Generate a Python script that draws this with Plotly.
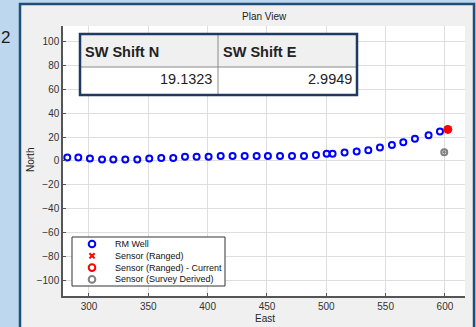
import plotly.graph_objects as go

# ---- data -------------------------------------------------------------
well_east = [281.7, 291.0, 300.8, 311.0, 320.5, 330.6, 340.7, 350.8, 360.9, 371.0,
             380.9, 390.7, 400.8, 411.0, 421.0, 431.2, 441.3, 450.8, 461.0, 471.1,
             481.2, 491.3, 500.3, 505.3, 515.4, 525.6, 535.4, 545.2, 555.3, 564.9,
             574.7, 586.2, 595.8]
well_north = [2.8, 2.8, 2.0, 1.1, 1.1, 1.1, 1.1, 1.9, 2.5, 2.5,
              3.4, 3.4, 3.4, 4.2, 4.2, 4.2, 4.2, 4.2, 4.2, 4.2,
              4.2, 5.0, 5.9, 5.9, 7.0, 7.8, 9.0, 11.2, 13.4, 15.7,
              18.5, 21.5, 24.6]

ranged_east = []
ranged_north = []

survey_east = [599.4]
survey_north = [7.3]

shift_headers = ["SW Shift N", "SW Shift E"]
shift_values = [19.1323, 2.9949]

# current ranged sensor = survey-derived position + shift
current_east = [survey_east[0] + shift_values[1]]
current_north = [survey_north[0] + shift_values[0]]

x_ticks = [300, 350, 400, 450, 500, 550, 600]
y_ticks = [-100, -80, -60, -40, -20, 0, 20, 40, 60, 80, 100]

legend_names = ["RM Well", "Sensor (Ranged)", "Sensor (Ranged) - Current",
                "Sensor (Survey Derived)"]

# ---- geometry helpers (pixel -> paper) ---------------------------------
W, H = 476, 327
L, R, T, B = 63, 11, 26, 31
PW, PH = W - L - R, H - T - B


def px(x):
    return (x - L) / PW


def py(y):
    return (H - B - y) / PH


BLUE = "#0000ff"
RED = "#ff0000"
GRAY = "#808080"
FONT = "Liberation Sans"

fig = go.Figure()

fig.add_trace(go.Scatter(
    x=well_east, y=well_north, mode="markers", name=legend_names[0],
    marker=dict(symbol="circle-open", size=6, color=BLUE, line=dict(width=2, color=BLUE)),
    showlegend=False))
fig.add_trace(go.Scatter(
    x=ranged_east, y=ranged_north, mode="markers", name=legend_names[1],
    marker=dict(symbol="x", size=7, color=RED), showlegend=False))
fig.add_trace(go.Scatter(
    x=survey_east, y=survey_north, mode="markers", name=legend_names[3],
    marker=dict(symbol="circle-open-dot", size=6, color=GRAY, line=dict(width=2, color=GRAY)),
    showlegend=False))
fig.add_trace(go.Scatter(
    x=current_east, y=current_north, mode="markers", name=legend_names[2],
    marker=dict(symbol="circle", size=9, color=RED, line=dict(width=0)),
    showlegend=False))

shapes = []
# outer panel and white plotting area
shapes.append(dict(type="rect", xref="paper", yref="paper", layer="below",
                   x0=px(20), x1=px(474), y0=py(340), y1=py(4),
                   fillcolor="#f0f0f0", line=dict(color="#1f4e79", width=2.5)))
shapes.append(dict(type="rect", xref="paper", yref="paper", layer="below",
                   x0=0, x1=1, y0=0, y1=1, fillcolor="white", line=dict(width=0)))

# shift table
tx0, tx1, tmid = 80, 357, 218
ty0, tsep, ty1 = 34, 67, 95
shapes.append(dict(type="rect", xref="paper", yref="paper", x0=px(tx0), x1=px(tx1),
                   y0=py(tsep), y1=py(ty0), fillcolor="#f0f0f0", line=dict(width=0)))
shapes.append(dict(type="rect", xref="paper", yref="paper", x0=px(tx0), x1=px(tx1),
                   y0=py(ty1), y1=py(tsep), fillcolor="white", line=dict(width=0)))
shapes.append(dict(type="line", xref="paper", yref="paper", x0=px(tx0), x1=px(tx1),
                   y0=py(tsep), y1=py(tsep), line=dict(color="#8a8a8a", width=1)))
shapes.append(dict(type="line", xref="paper", yref="paper", x0=px(tmid), x1=px(tmid),
                   y0=py(ty1), y1=py(ty0), line=dict(color="#8a8a8a", width=1)))
shapes.append(dict(type="rect", xref="paper", yref="paper", x0=px(tx0), x1=px(tx1),
                   y0=py(ty1), y1=py(ty0), line=dict(color="#1f3864", width=2.5)))

# legend box
lx0, lx1, ly0, ly1 = 72, 225, 237, 286
shapes.append(dict(type="rect", xref="paper", yref="paper", x0=px(lx0), x1=px(lx1),
                   y0=py(ly1), y1=py(ly0), fillcolor="white",
                   line=dict(color="#333333", width=1)))
sym_x = 92
rows = [244, 255.8, 267.6, 279.4]


def circle(cx, cy, color, r=3.3, width=2):
    return dict(type="circle", xref="paper", yref="paper",
                xsizemode="pixel", ysizemode="pixel",
                xanchor=px(cx), yanchor=py(cy),
                x0=-r, x1=r, y0=-r, y1=r, line=dict(color=color, width=width))


def cross(cx, cy, color, r=2.6):
    out = []
    for s in (1, -1):
        out.append(dict(type="line", xref="paper", yref="paper",
                        xsizemode="pixel", ysizemode="pixel",
                        xanchor=px(cx), yanchor=py(cy),
                        x0=-r, x1=r, y0=-r * s, y1=r * s,
                        line=dict(color=color, width=2)))
    return out


shapes.append(circle(sym_x, rows[0], BLUE))
shapes.extend(cross(sym_x, rows[1], RED))
shapes.append(circle(sym_x, rows[2], RED))
shapes.append(circle(sym_x, rows[3], GRAY))

annotations = []
annotations.append(dict(text="Plan View", x=0.5, y=py(16), xref="paper", yref="paper",
                        showarrow=False, xanchor="center", yanchor="middle",
                        font=dict(family=FONT, size=10, color="#222222")))
annotations.append(dict(text="North", x=px(30), y=py(160), xref="paper", yref="paper",
                        showarrow=False, textangle=-90, xanchor="center", yanchor="middle",
                        font=dict(family=FONT, size=10, color="#262626")))
annotations.append(dict(text="East", x=px(265), y=py(318), xref="paper", yref="paper",
                        showarrow=False, xanchor="center", yanchor="middle",
                        font=dict(family=FONT, size=10, color="#262626")))
annotations.append(dict(text="2", x=px(0), y=py(37), xref="paper", yref="paper",
                        showarrow=False, xanchor="left", yanchor="middle", borderpad=0,
                        font=dict(family=FONT, size=17, color="#1a1a1a")))

# table text
for i, (hx, vx) in enumerate([(tx0 + 2.5, tmid - 4.5), (tmid + 2.5, tx1 - 3.5)]):
    annotations.append(dict(text="<b>%s</b>" % shift_headers[i], x=px(hx), y=py(52),
                            xref="paper", yref="paper", showarrow=False,
                            xanchor="left", yanchor="middle",
                            font=dict(family=FONT, size=14.5, color="#222222")))
    annotations.append(dict(text="%.4f" % shift_values[i], x=px(vx), y=py(79),
                            xref="paper", yref="paper", showarrow=False,
                            xanchor="right", yanchor="middle",
                            font=dict(family=FONT, size=14.5, color="#222222")))

# legend text
for name, ry in zip(legend_names, rows):
    annotations.append(dict(text=name, x=px(112.5), y=py(ry), xref="paper", yref="paper",
                            showarrow=False, xanchor="left", yanchor="middle",
                            font=dict(family=FONT, size=9, color="#111111")))

axis_common = dict(showgrid=True, gridcolor="#dedede", gridwidth=1,
                   showline=True, linecolor="#555555", linewidth=1.5,
                   ticks="inside", ticklen=3, tickcolor="#555555", tickwidth=1,
                   zeroline=False, mirror=False,
                   tickfont=dict(family=FONT, size=10, color="#333333"))

fig.update_layout(
    width=W, height=H, autosize=False,
    margin=dict(l=L, r=R, t=T, b=B),
    paper_bgcolor="#bdd7ee",
    plot_bgcolor="rgba(0,0,0,0)",
    xaxis=dict(range=[278.1, 616.9], tickvals=x_ticks, **axis_common),
    yaxis=dict(range=[-113.4, 113.2], tickvals=y_ticks, **axis_common),
    shapes=shapes,
    annotations=annotations,
    showlegend=False,
)

fig.write_html("out.html")
